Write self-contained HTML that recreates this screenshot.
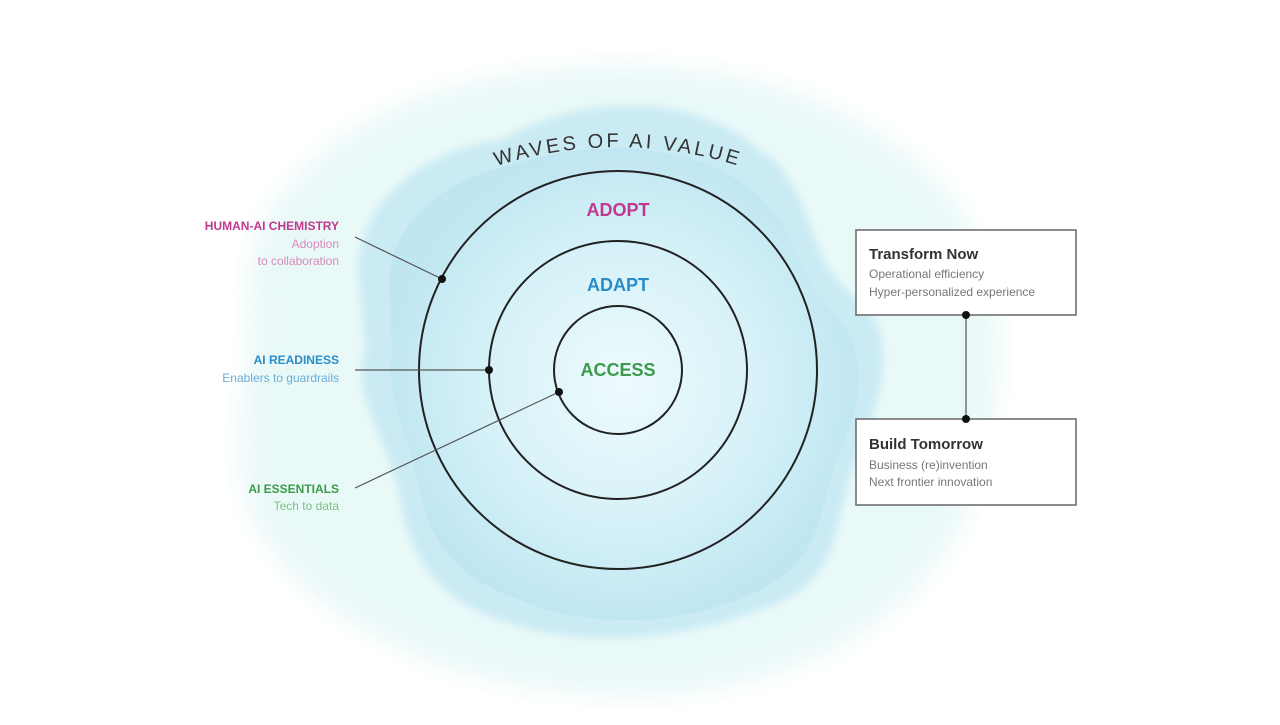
<!DOCTYPE html>
<html><head><style>
body{margin:0;width:1280px;height:720px;background:#fff;overflow:hidden;font-family:"Liberation Sans",sans-serif}
</style></head><body>
<svg width="1280" height="720" viewBox="0 0 1280 720" xmlns="http://www.w3.org/2000/svg">
<defs>
<filter id="b" x="-20%" y="-20%" width="140%" height="140%"><feGaussianBlur stdDeviation="12"/></filter>
<filter id="b2" x="-20%" y="-20%" width="140%" height="140%"><feGaussianBlur stdDeviation="4"/></filter>
<radialGradient id="g" cx="0.5" cy="0.5" r="0.5"><stop offset="0" stop-color="#f2fcfe"/><stop offset="0.6" stop-color="#d6f2f8"/><stop offset="1" stop-color="#bfe6f1"/></radialGradient>
<path id="arc" d="M 218 547 A 400 400 0 0 1 1018 547"/>
</defs>
<path filter="url(#b)" fill="#e9f9f8" d="M250 300 C240 180 380 90 520 75 C650 55 800 70 900 150 C1000 220 1010 330 990 430 C970 560 880 660 700 690 C520 710 330 650 260 530 C220 460 255 380 250 300Z"/>
<path filter="url(#b2)" fill="#cbebf4" d="M360 290 C345 210 420 150 500 140 C580 95 690 90 760 150 C820 190 800 260 860 300 C900 340 880 400 860 450 C830 520 850 580 760 610 C680 640 580 650 500 620 C440 600 410 560 400 500 C390 440 350 400 365 350Z"/>
<path fill="url(#g)" opacity="0.9" d="M390 300 C380 230 440 180 510 165 C590 140 680 140 745 185 C800 225 790 270 835 315 C870 350 860 410 840 450 C815 510 830 560 750 595 C680 625 590 630 520 600 C460 580 430 545 420 490 C410 440 385 400 392 350Z"/>
<g fill="none" stroke="#222" stroke-width="2">
<circle cx="618" cy="370" r="199"/>
<circle cx="618" cy="370" r="129"/>
<circle cx="618" cy="370" r="64"/>
</g>
<g stroke="#555" stroke-width="1.2">
<line x1="355" y1="237" x2="442" y2="279"/>
<line x1="355" y1="370" x2="489" y2="370"/>
<line x1="355" y1="488" x2="559" y2="392"/>
<line x1="966" y1="315" x2="966" y2="419"/>
</g>
<g fill="#111">
<circle cx="442" cy="279" r="4"/><circle cx="489" cy="370" r="4"/><circle cx="559" cy="392" r="4"/>
</g>
<text font-size="20" letter-spacing="3" fill="#333"><textPath href="#arc" startOffset="50%" text-anchor="middle">WAVES OF AI VALUE</textPath></text>
<g font-weight="bold" font-size="18" text-anchor="middle">
<text x="618" y="216" fill="#c0398f">ADOPT</text>
<text x="618" y="291" fill="#2a8cc8">ADAPT</text>
<text x="618" y="376" fill="#3c9a4a">ACCESS</text>
</g>
<g font-size="12" text-anchor="end">
<text x="339" y="230" fill="#c0398f" font-weight="bold">HUMAN-AI CHEMISTRY</text>
<text x="339" y="248" fill="#d68bbd">Adoption</text>
<text x="339" y="265" fill="#d68bbd">to collaboration</text>
<text x="339" y="364" fill="#2a8cc8" font-weight="bold">AI READINESS</text>
<text x="339" y="382" fill="#6aaed8">Enablers to guardrails</text>
<text x="339" y="493" fill="#3c9a4a" font-weight="bold">AI ESSENTIALS</text>
<text x="339" y="510" fill="#7cbf84">Tech to data</text>
</g>
<g fill="#fff" stroke="#666" stroke-width="1.5">
<rect x="856" y="230" width="220" height="85"/>
<rect x="856" y="419" width="220" height="86"/>
</g>
<g font-size="12" fill="#777">
<text x="869" y="259" font-size="15" font-weight="bold" fill="#333">Transform Now</text>
<text x="869" y="278">Operational efficiency</text>
<text x="869" y="296">Hyper-personalized experience</text>
<text x="869" y="449" font-size="15" font-weight="bold" fill="#333">Build Tomorrow</text>
<text x="869" y="469">Business (re)invention</text>
<text x="869" y="486">Next frontier innovation</text>
</g>
<g fill="#111"><circle cx="966" cy="315" r="4"/><circle cx="966" cy="419" r="4"/></g>
</svg>
</body></html>
